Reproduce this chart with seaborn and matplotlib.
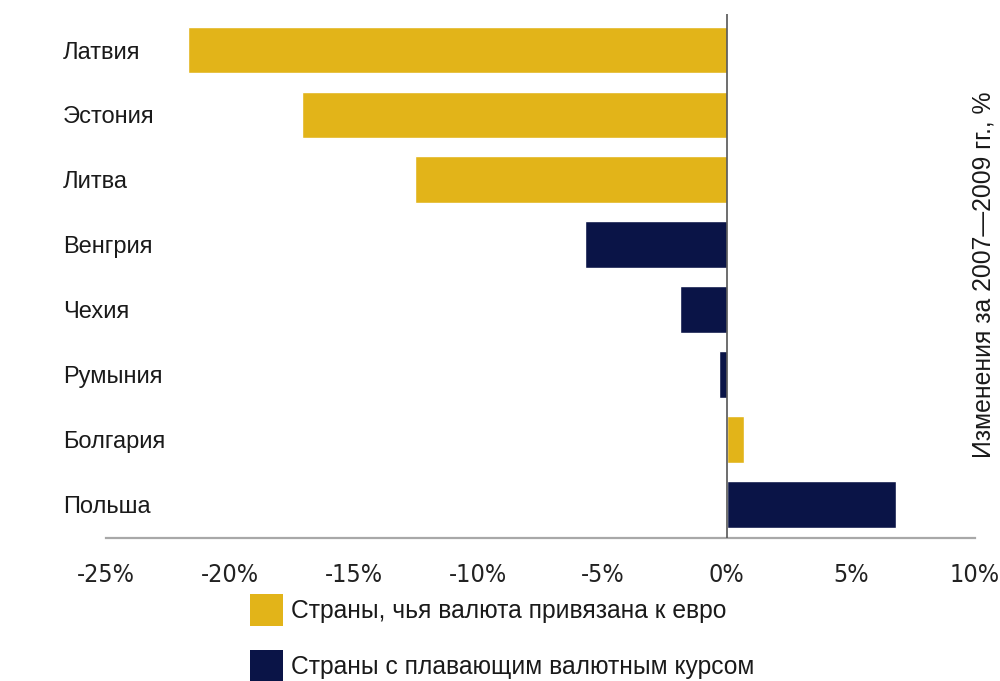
import matplotlib
matplotlib.use("Agg")
import matplotlib.pyplot as plt
import seaborn as sns
import pandas as pd
from matplotlib.patches import Patch

# Change in values 2007-2009, % by country
countries = ["Латвия", "Эстония", "Литва", "Венгрия", "Чехия", "Румыния", "Болгария", "Польша"]
changes = [-21.7, -17.1, -12.55, -5.7, -1.9, -0.3, 0.7, 6.8]
groups = ["peg", "peg", "peg", "float", "float", "float", "peg", "float"]

group_labels = {
    "peg": "Страны, чья валюта привязана к евро",
    "float": "Страны с плавающим валютным курсом",
}
group_colors = {"peg": "#E2B419", "float": "#0A1447"}

x_ticks = [-25, -20, -15, -10, -5, 0, 5, 10]
x_tick_labels = ["-25%", "-20%", "-15%", "-10%", "-5%", "0%", "5%", "10%"]

df = pd.DataFrame({"country": countries, "change": changes, "group": groups})

sns.set_theme(style="white")
plt.rcParams["font.family"] = ["Liberation Sans", "DejaVu Sans"]

fig = plt.figure(figsize=(10, 6.81), dpi=100)
ax = fig.add_axes([0.106, 1 - 538 / 681, 0.869, (538 - 14) / 681])

sns.barplot(
    data=df, x="change", y="country", hue="group", order=countries,
    palette=group_colors, dodge=False, orient="h", width=0.72,
    saturation=1, legend=False, ax=ax,
)

ax.set_xlim(-25, 10)
ax.set_ylim(7.52, -0.555)
ax.axvline(0, color="#555555", lw=1.2, zorder=5)

for side in ["top", "right", "left"]:
    ax.spines[side].set_visible(False)
ax.spines["bottom"].set_color("#a8a8a8")
ax.spines["bottom"].set_linewidth(1.6)

ax.set_xlabel("")
ax.set_ylabel("")
ax.set_xticks(x_ticks)
ax.set_xticklabels(x_tick_labels, fontsize=18, color="#222222",
                   family="DejaVu Sans", fontstretch="condensed")
ax.tick_params(axis="x", length=0, pad=18)
ax.tick_params(axis="y", length=0, pad=31)
for lbl in ax.get_yticklabels():
    lbl.set_horizontalalignment("left")
    lbl.set_fontsize(17)
    lbl.set_color("#1a1a1a")

handles = [Patch(facecolor=group_colors[g], edgecolor="none") for g in ["peg", "float"]]
labels = [group_labels[g] for g in ["peg", "float"]]
fig.legend(
    handles, labels, loc="upper left", bbox_to_anchor=(0.25, 1 - 594 / 681),
    frameon=False, fontsize=17.7, handlelength=1.35, handleheight=1.6,
    handletextpad=0.3, labelspacing=1.0, borderpad=0, borderaxespad=0,
    labelcolor="#1a1a1a",
)

fig.text(0.984, 1 - 275 / 681, "Изменения за 2007—2009 гг., %", rotation=90,
         ha="center", va="center", fontsize=17.8, color="#1a1a1a")

fig.savefig("out.png", dpi=100, facecolor="white")
